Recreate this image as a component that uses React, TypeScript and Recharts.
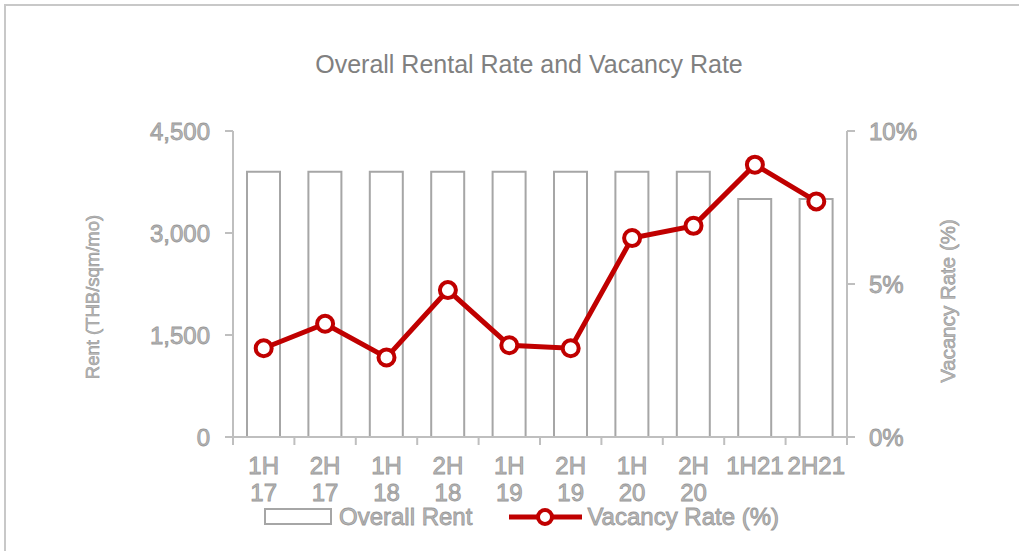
import React from "react"
import { ComposedChart, Bar, Line, XAxis, YAxis } from "recharts"

const periods = ["1H 17", "2H 17", "1H 18", "2H 18", "1H 19", "2H 19", "1H 20", "2H 20", "1H21", "2H21"]
const rentValues = [3900, 3900, 3900, 3900, 3900, 3900, 3900, 3900, 3500, 3500]
const vacancyValues = [2.9, 3.7, 2.6, 4.8, 3.0, 2.9, 6.5, 6.9, 8.9, 7.7]
const rentTicks = [0, 1500, 3000, 4500]
const vacancyTicks = [0, 5, 10]

const data = periods.map((p, i) => ({ period: p, rent: rentValues[i], vacancy: vacancyValues[i] }))

const FONT = '"Liberation Sans", Arial, sans-serif'
const TEXT_FILL = "#b8b8b8"
const TEXT_EDGE = "#999999"
const AXIS_GREY = "#bfbfbf"
const BAR_GREY = "#a6a6a6"
const RED = "#c00000"

const tickStyle = { fontSize: 24, fill: TEXT_FILL, stroke: TEXT_EDGE, strokeWidth: 0.8, fontFamily: FONT }

function PeriodTick(props: any) {
    const { x, y, payload, index, visibleTicksCount } = props
    const half = payload?.offset || 30.7
    const lines = String(payload.value).split(" ")
    const isLast = index === (visibleTicksCount ?? periods.length) - 1
    return (
        <g>
            <line x1={x - half} x2={x - half} y1={y} y2={y + 8} stroke={AXIS_GREY} strokeWidth={2} />
            {isLast && <line x1={x + half} x2={x + half} y1={y} y2={y + 8} stroke={AXIS_GREY} strokeWidth={2} />}
            {lines.map((l, i) => (
                <text key={i} x={x} y={y + 28 + i * 27} textAnchor="middle" dominantBaseline="central" {...tickStyle}>
                    {l}
                </text>
            ))}
        </g>
    )
}

function AxisTitle({ viewBox, value, dx, dy, size }: any) {
    const cx = viewBox.x + dx
    const cy = viewBox.y + viewBox.height / 2 + dy
    return (
        <text x={cx} y={cy} transform={`rotate(-90, ${cx}, ${cy})`} textAnchor="middle" dominantBaseline="central"
            fontSize={size} fontFamily={FONT} fill={TEXT_FILL} stroke={TEXT_EDGE} strokeWidth={0.6}>
            {value}
        </text>
    )
}

function VacancyDot(props: any) {
    const { cx, cy } = props
    if (cx == null || cy == null) return null
    return <circle cx={cx} cy={cy} r={8} fill="#fff" stroke={RED} strokeWidth={4} />
}

function ChartLegend() {
    const textStyle = { WebkitTextStroke: `0.8px ${TEXT_EDGE}`, color: TEXT_FILL } as React.CSSProperties
    return (
        <div style={{ position: "absolute", left: 264, top: 503, height: 28, display: "flex", alignItems: "center", fontFamily: FONT, fontSize: 24, lineHeight: "24px" }}>
            <svg width={70} height={18} style={{ marginRight: 5 }}>
                <rect x={1} y={1} width={66} height={15} fill="#fff" stroke={BAR_GREY} strokeWidth={2} />
            </svg>
            <span style={textStyle}>Overall Rent</span>
            <svg width={76} height={24} style={{ marginLeft: 36, marginRight: 3 }}>
                <line x1={1} x2={74} y1={12} y2={12} stroke={RED} strokeWidth={5} />
                <circle cx={37} cy={12} r={7} fill="#fff" stroke={RED} strokeWidth={4} />
            </svg>
            <span style={textStyle}>Vacancy Rate (%)</span>
        </div>
    )
}

export default function App() {
    return (
        <div style={{ position: "absolute", left: 0, top: 0, width: 1019, height: 551, overflow: "hidden", background: "#fff" }}>
            <div style={{ position: "absolute", left: 4, top: 4, width: 1100, height: 600, borderTop: "2px solid #c8c8c8", borderLeft: "2px solid #c8c8c8" }} />
            <div style={{ position: "absolute", left: 0, width: 1058, top: 50, textAlign: "center", fontFamily: FONT, fontSize: 25, color: "#808080" }}>
                Overall Rental Rate and Vacancy Rate
            </div>
            <div style={{ position: "absolute", left: 0, top: 0 }}>
                <ComposedChart width={1019} height={551} data={data} margin={{ top: 131, right: 0, bottom: 0, left: 0 }}>
                    <XAxis dataKey="period" height={114} tickLine={false} tickSize={0} tickMargin={0} interval={0}
                        axisLine={{ stroke: AXIS_GREY, strokeWidth: 2 }} tick={<PeriodTick />} />
                    <YAxis yAxisId="left" width={233} domain={[0, 4500]} ticks={rentTicks}
                        tickFormatter={(v: number) => v.toLocaleString("en-US")}
                        tickSize={8} tickMargin={15}
                        tick={tickStyle}
                        tickLine={{ stroke: AXIS_GREY, strokeWidth: 2 }}
                        axisLine={{ stroke: AXIS_GREY, strokeWidth: 2 }}
                        label={{ content: (p: any) => <AxisTitle {...p} value="Rent (THB/sqm/mo)" dx={92} dy={13} size={18.5} /> }} />
                    <YAxis yAxisId="right" orientation="right" width={172} domain={[0, 10]} ticks={vacancyTicks}
                        tickFormatter={(v: number) => `${v}%`}
                        tickSize={8} tickMargin={14}
                        tick={tickStyle}
                        tickLine={{ stroke: AXIS_GREY, strokeWidth: 2 }}
                        axisLine={{ stroke: AXIS_GREY, strokeWidth: 2 }}
                        label={{ content: (p: any) => <AxisTitle {...p} value="Vacancy Rate (%)" dx={100} dy={17} size={20.5} /> }} />
                    <Bar yAxisId="left" dataKey="rent" barSize={33} fill="#fff" stroke={BAR_GREY} strokeWidth={2} isAnimationActive={false} />
                    <Line yAxisId="right" dataKey="vacancy" type="linear" stroke={RED} strokeWidth={5}
                        dot={<VacancyDot />} activeDot={false} isAnimationActive={false} />
                </ComposedChart>
            </div>
            <ChartLegend />
        </div>
    )
}
